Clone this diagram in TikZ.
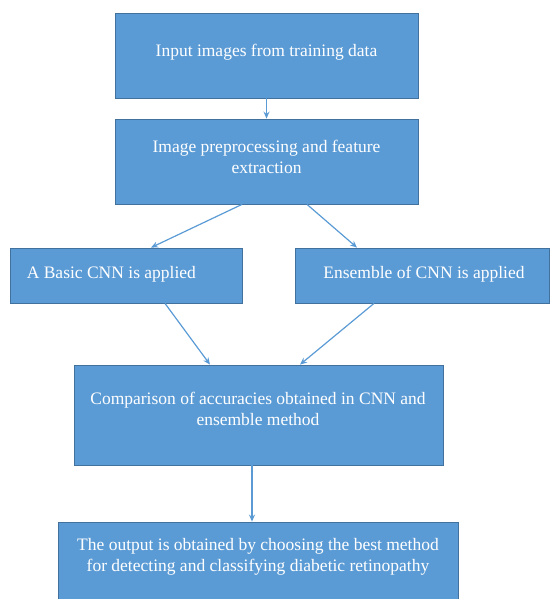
\documentclass[tikz,border=0pt]{standalone}
\usepackage{fontspec}
\setmainfont{Liberation Serif}
\usetikzlibrary{arrows.meta}
\definecolor{boxblue}{HTML}{5B9BD5}
\definecolor{edgeblue}{HTML}{41719C}
\begin{document}
\begin{tikzpicture}[x=1pt, y=-1pt,
    box/.style={draw=edgeblue, fill=boxblue, line width=0.8pt, inner sep=0pt},
    txt/.style={text=white, align=center, inner sep=0pt,
      font=\fontsize{17.5}{21.5}\selectfont},
    arr/.style={draw=boxblue, line width=1.2pt, -{Stealth[length=7pt,width=6pt]}}]
      % Frame
      \useasboundingbox (0,0) rectangle (551,599);

      % Boxes
      \node[box, minimum width=303pt, minimum height=85pt] (input) at (266.5,55.5) {};
      \node[box, minimum width=303pt, minimum height=85pt] (prep) at (266.5,161.5) {};
      \node[box, minimum width=232pt, minimum height=55pt] (basic) at (126,275.5) {};
      \node[box, minimum width=254pt, minimum height=55pt] (ensemble) at (422,275.5) {};
      \node[box, minimum width=369pt, minimum height=100pt] (compare) at (258.5,415) {};
      \node[box, minimum width=400pt, minimum height=84pt] (output) at (258,564) {};

      % Texts
      \node[txt] (inputtext) at (266.5,52) {Input images from training data};
      \node[txt] (preptext) at (266.5,157) {Image preprocessing and feature\\extraction};
      \node[txt, anchor=west] (basictext) at ([xshift=17pt,yshift=1.5pt]basic.west) {A Basic CNN is applied};
      \node[txt] (ensembletext) at (424,274) {Ensemble of CNN is applied};
      \node[txt] (comparetext) at (258,409) {Comparison of accuracies obtained in CNN and\\ensemble method};
      \node[txt] (outputtext) at (258,557) {The output is obtained by choosing the best method\\for detecting and classifying diabetic retinopathy};

      % Arrows
      \draw[arr] (input.south) -- (prep.north);
      \draw[arr] ([xshift=-24.5pt]prep.south) -- ([xshift=25pt]basic.north);
      \draw[arr] ([xshift=40.5pt]prep.south) -- ([xshift=-65pt]ensemble.north);
      \draw[arr] ([xshift=39pt]basic.south) -- ([xshift=-48.5pt]compare.north);
      \draw[arr] ([xshift=-48pt]ensemble.south) -- ([xshift=41.5pt]compare.north);
      \draw[arr] ([xshift=-6.5pt]compare.south) -- ([xshift=-6pt]output.north);

    \end{tikzpicture}
\end{document}
